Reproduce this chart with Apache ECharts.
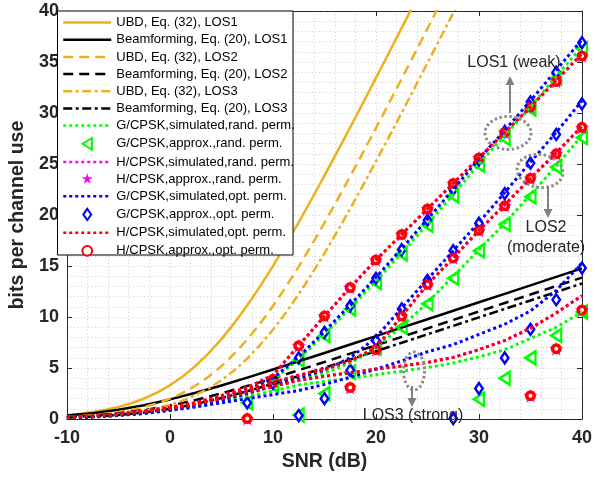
<!DOCTYPE html>
<html><head><meta charset="utf-8">
<script src="https://cdn.jsdelivr.net/npm/echarts/dist/echarts.min.js"></script>
<style>html,body{margin:0;padding:0;background:#fff}#c{width:595px;height:477px}</style>
</head><body><div id="c"></div>
<script>
// ---------- data ----------
const snr = [-10,-7.5,-5,-2.5,0,2.5,5,7.5,10,12.5,15,17.5,20,22.5,25,27.5,30,32.5,35,37.5,40];
const snrFine = [-10,-8.75,-7.5,-6.25,-5,-3.75,-2.5,-1.25,0,1.25,2.5,3.75,5,6.25,7.5,8.75,10,11.25,12.5,13.75,15,16.25,17.5,18.75,20,21.25,22.5,23.75,25,26.25,27.5,28.75,30];
const snrMarks = [7.5,10,12.5,15,17.5,20,22.5,25,27.5,30,32.5,35,37.5,40];
const xTicks = [-10,0,10,20,30,40];
const yTicks = [0,5,10,15,20,25,30,35,40];

// UBD curves (on snrFine)
const ubdLos1 = [0.39,0.52,0.69,0.91,1.19,1.55,2.02,2.59,3.31,4.18,5.23,6.44,7.84,9.41,11.14,13.01,15.0,17.1,19.29,21.55,23.86,26.21,28.6,31.01,33.44,35.88,38.34,40.81];
const ubdLos2 = [0.22,0.3,0.39,0.52,0.68,0.9,1.18,1.54,2.0,2.58,3.29,4.16,5.19,6.41,7.8,9.36,11.09,12.96,14.95,17.05,19.23,21.48,23.79,26.14,28.53,30.94,33.37,35.82,38.27,40.74];
const ubdLos3 = [0.15,0.2,0.27,0.35,0.47,0.62,0.81,1.07,1.4,1.82,2.35,3.01,3.81,4.78,5.93,7.26,8.76,10.42,12.24,14.19,16.25,18.4,20.63,22.92,25.26,27.63,30.03,32.46,34.9,37.35,39.81,42.28,44.8];
// beamforming curves (on snr)
const bfLos1 = [0.36,0.58,0.92,1.36,1.93,2.58,3.3,4.07,4.86,5.67,6.48,7.31,8.13,8.96,9.79,10.62,11.45,12.28,13.11,13.94,14.77];
const bfLos2 = [0.2,0.34,0.56,0.88,1.32,1.87,2.52,3.24,4.0,4.79,5.6,6.42,7.24,8.06,8.89,9.72,10.55,11.38,12.21,13.04,13.87];
const bfLos3 = [0.14,0.24,0.4,0.64,1.0,1.47,2.06,2.73,3.46,4.23,5.03,5.84,6.66,7.48,8.31,9.14,9.97,10.8,11.63,12.46,13.29];

// simulated curves (on snr)
const gRandSimLos1 = [0.15,0.27,0.45,0.7,1.05,1.5,2.1,2.7,3.8,5.9,8.3,10.9,13.5,16.3,19.1,22.0,25.0,27.8,30.6,33.6,36.5];
const gRandSimLos2 = [0.13,0.24,0.4,0.62,0.95,1.35,1.85,2.5,3.2,3.9,4.5,5.5,7.0,9.1,11.4,14.0,16.6,19.2,22.0,24.8,27.8];
const gRandSimLos3 = [0.12,0.22,0.37,0.58,0.9,1.25,1.7,2.2,2.75,3.35,3.7,4.0,4.35,4.7,5.05,5.5,6.1,6.8,7.9,9.0,10.5];
const hRandSimLos1 = [0.2,0.33,0.52,0.8,1.15,1.6,2.3,3.1,4.3,7.2,10.1,12.9,15.6,18.1,20.6,23.1,25.6,28.1,30.6,33.2,35.8];
const hRandSimLos2 = [0.18,0.3,0.48,0.75,1.1,1.6,2.2,2.9,3.6,4.3,4.9,5.7,7.0,10.1,13.2,15.8,18.5,21.0,23.6,26.1,28.7];
const hRandSimLos3 = [0.15,0.27,0.44,0.7,1.0,1.45,2.0,2.6,3.2,3.8,4.2,4.55,4.9,5.2,5.55,6.05,6.8,7.7,8.9,10.4,12.1];
const gOptSimLos1 = [0.15,0.27,0.45,0.7,1.05,1.5,2.1,2.8,4.0,6.1,8.6,11.2,13.9,16.7,19.6,22.5,25.5,28.3,31.2,34.2,37.2];
const gOptSimLos2 = [0.13,0.24,0.4,0.62,0.95,1.35,1.85,2.5,3.3,4.0,4.8,6.0,8.0,10.9,13.7,16.5,19.3,22.2,25.2,28.1,31.2];
const gOptSimLos3 = [0.1,0.2,0.35,0.55,0.85,1.2,1.6,2.0,2.4,2.8,3.4,4.1,4.9,5.7,6.6,7.3,8.3,9.3,10.6,12.6,15.3];
const hOptSimLos1 = [0.2,0.33,0.52,0.8,1.15,1.6,2.3,3.1,4.3,7.2,10.1,12.9,15.6,18.1,20.6,23.1,25.6,28.1,30.6,33.2,35.8];
const hOptSimLos2 = [0.18,0.3,0.48,0.75,1.1,1.6,2.2,2.9,3.6,4.3,4.9,5.7,7.0,10.1,13.2,15.8,18.5,21.0,23.6,26.1,28.7];
const hOptSimLos3 = [0.15,0.27,0.44,0.7,1.0,1.45,2.0,2.6,3.2,3.8,4.2,4.55,4.9,5.2,5.55,6.05,6.8,7.7,8.9,10.4,12.1];

// approximation markers (on snrMarks)
const gRandApxLos1 = [1.6,3.3,5.8,8.2,10.8,13.4,16.2,19.0,21.9,24.9,27.5,30.4,33.4,36.3];
const gRandApxLos2 = [null,null,0.4,2.5,4.6,7.0,9.0,11.3,13.8,16.5,19.1,21.8,24.7,27.6];
const gRandApxLos3 = [null,null,null,null,null,null,null,null,null,1.95,4.0,6.0,8.2,10.5];
const hRandApxLos1 = [0.05,3.9,7.2,10.1,12.9,15.6,18.1,20.6,23.1,25.6,28.1,30.6,33.1,35.6];
const hRandApxLos2 = [null,null,null,null,3.1,6.8,10.1,13.2,15.8,18.5,20.9,23.6,26.0,28.6];
const hRandApxLos3 = [null,null,null,null,null,null,null,null,null,null,null,2.3,6.9,10.7];
const gOptApxLos1 = [1.6,3.5,6.0,8.5,11.1,13.8,16.6,19.5,22.5,25.4,28.2,31.1,34.0,36.9];
const gOptApxLos2 = [null,null,0.35,2.0,4.8,7.7,10.8,13.6,16.5,19.2,22.1,25.1,27.9,30.9];
const gOptApxLos3 = [null,null,null,null,null,null,null,null,0.05,3.0,6.0,8.8,11.7,14.8];
const hOptApxLos1 = [0.05,3.9,7.2,10.1,12.9,15.6,18.1,20.6,23.1,25.6,28.1,30.6,33.1,35.6];
const hOptApxLos2 = [null,null,null,null,3.1,6.8,10.1,13.2,15.8,18.5,20.9,23.6,26.0,28.6];
const hOptApxLos3 = [null,null,null,null,null,null,null,null,null,null,null,2.3,6.9,10.7];

const names = ['UBD, Eq. (32), LOS1','Beamforming, Eq. (20), LOS1','UBD, Eq. (32), LOS2','Beamforming, Eq. (20), LOS2',
  'UBD, Eq. (32), LOS3','Beamforming, Eq. (20), LOS3','G/CPSK,simulated,rand. perm.','G/CPSK,approx.,rand. perm.',
  'H/CPSK,simulated,rand. perm.','H/CPSK,approx.,rand. perm.','G/CPSK,simulated,opt. perm.','G/CPSK,approx.,opt. perm.',
  'H/CPSK,simulated,opt. perm.','H/CPSK,approx.,opt. perm.'];
const lineNames = [0,1,2,3,4,5,6,8,10,12].map(i => names[i]);

// ---------- styling / building ----------
const ORANGE = '#EDB120', GREEN = '#00FF00', MAG = '#FF00FF', BLUE = '#0000FF', RED = '#FF0000';
const STAR_P = 'M50,0 L61.2,34.5 L97.6,34.5 L68.2,55.9 L79.4,90.5 L50,69.1 L20.6,90.5 L31.8,55.9 L2.4,34.5 L38.8,34.5 Z';
const TRI_P = 'M0,50 L80,0 L80,100 Z';
const DIA_P = 'M35,0 L70,50 L35,100 L0,50 Z';
const CIR_P = 'M0,50 A50,50 0 1,1 100,50 A50,50 0 1,1 0,50 Z';
// legend icons: same shapes with some empty margin so they appear smaller than the item box
const legendIcons = {
  'G/CPSK,approx.,rand. perm.': 'path://M-12,-10 M92,110 ' + TRI_P,
  'H/CPSK,approx.,rand. perm.': 'path://M-8,-10 M108,110 ' + STAR_P,
  'G/CPSK,approx.,opt. perm.': 'path://M-15,-12 M85,112 ' + DIA_P,
  'H/CPSK,approx.,opt. perm.': 'path://M-22,-22 M122,122 ' + CIR_P
};
function pairs(xs, ys) { const o = []; ys.forEach((y, i) => { if (y !== null && y !== undefined) o.push([xs[i], y]); }); return o; }
function curve(name, xs, ys, color, type, width) {
  return { type: 'line', name, data: pairs(xs, ys), symbol: 'none', smooth: false,
    lineStyle: { color, width, type, cap: 'butt', join: 'round' }, itemStyle: { color }, animation: false, silent: true };
}
function marks(name, ys, path, size, color, fill, bw) {
  return { type: 'scatter', name, data: pairs(snrMarks, ys), symbol: 'path://' + path, symbolSize: size,
    itemStyle: { color: fill, borderColor: color, borderWidth: bw, opacity: 1 }, animation: false, silent: true };
}
const DOT = [3, 3], DASH = [10, 6], DASHDOT = [9, 3.5, 3, 3.5];
const series = [
  curve(names[0], snrFine, ubdLos1, ORANGE, 'solid', 2.5),
  curve(names[1], snr, bfLos1, '#000', 'solid', 2.5),
  curve(names[2], snrFine, ubdLos2, ORANGE, DASH, 2.5),
  curve(names[3], snr, bfLos2, '#000', DASH, 2.5),
  curve(names[4], snrFine, ubdLos3, ORANGE, DASHDOT, 2.5),
  curve(names[5], snr, bfLos3, '#000', DASHDOT, 2.5),
  curve(names[6], snr, gRandSimLos1, GREEN, DOT, 3), curve(names[6], snr, gRandSimLos2, GREEN, DOT, 3), curve(names[6], snr, gRandSimLos3, GREEN, DOT, 3),
  marks(names[7], gRandApxLos1, TRI_P, [10, 13], GREEN, '#fff', 2.5),
  marks(names[7], gRandApxLos2, TRI_P, [10, 13], GREEN, '#fff', 2.5),
  marks(names[7], gRandApxLos3, TRI_P, [10, 13], GREEN, '#fff', 2.5),
  curve(names[8], snr, hRandSimLos1, MAG, DOT, 3), curve(names[8], snr, hRandSimLos2, MAG, DOT, 3), curve(names[8], snr, hRandSimLos3, MAG, DOT, 3),
  marks(names[9], hRandApxLos1, STAR_P, 14, MAG, MAG, 0),
  marks(names[9], hRandApxLos2, STAR_P, 14, MAG, MAG, 0),
  marks(names[9], hRandApxLos3, STAR_P, 14, MAG, MAG, 0),
  curve(names[10], snr, gOptSimLos1, BLUE, DOT, 3), curve(names[10], snr, gOptSimLos2, BLUE, DOT, 3), curve(names[10], snr, gOptSimLos3, BLUE, DOT, 3),
  marks(names[11], gOptApxLos1, DIA_P, [7.5, 11], BLUE, '#fff', 2.5),
  marks(names[11], gOptApxLos2, DIA_P, [7.5, 11], BLUE, '#fff', 2.5),
  marks(names[11], gOptApxLos3, DIA_P, [7.5, 11], BLUE, '#fff', 2.5),
  curve(names[12], snr, hOptSimLos1, RED, DOT, 3), curve(names[12], snr, hOptSimLos2, RED, DOT, 3), curve(names[12], snr, hOptSimLos3, RED, DOT, 3),
  marks(names[13], hOptApxLos1, CIR_P, 7.5, RED, '#fff', 3.5),
  marks(names[13], hOptApxLos2, CIR_P, 7.5, RED, '#fff', 3.5),
  marks(names[13], hOptApxLos3, CIR_P, 7.5, RED, '#fff', 3.5)
];

const FONT = 'Liberation Sans, Arial, Helvetica, sans-serif';
const AX = '#262626';
const gridLine = { show: true, lineStyle: { color: '#cfcfcf', width: 1, type: [1, 2.5] } };
const frameLine = { show: true, onZero: false, lineStyle: { color: AX, width: 1 } };
const frameTick = { show: true, inside: true, length: 5, lineStyle: { color: AX } };

// annotation decoration helpers (pixel layout only)
function ellipsePts(cx, cy, rx, ry, rotDeg) {
  const p = [], r = rotDeg * Math.PI / 180;
  for (let k = 0; k <= 60; k++) {
    const t = k / 60 * 2 * Math.PI, x = rx * Math.cos(t), y = ry * Math.sin(t);
    p.push([cx + x * Math.cos(r) - y * Math.sin(r), cy + x * Math.sin(r) + y * Math.cos(r)]);
  }
  return p;
}
function arrow(x, y1, y2) {
  const dir = y2 > y1 ? 1 : -1, hl = 9;
  return [
    { type: 'line', shape: { x1: x, y1: y1, x2: x, y2: y2 - dir * hl }, style: { stroke: '#808080', lineWidth: 2 }, z: 50 },
    { type: 'polygon', shape: { points: [[x, y2], [x - 4.5, y2 - dir * hl], [x + 4.5, y2 - dir * hl]] }, style: { fill: '#808080' }, z: 50 }
  ];
}
const ellStyle = { stroke: '#8c8c8c', lineWidth: 3, lineDash: [2.5, 2.5], fill: null };
function label(text, x, y) {
  return { type: 'text', x: x, y: y, z: 50, style: { text, fill: '#262626', font: '16px ' + FONT, align: 'center', verticalAlign: 'middle', textAlign: 'center', textVerticalAlign: 'middle' } };
}
const graphics = [
  { type: 'rect', shape: { x: 57.5, y: 11, width: 235.5, height: 244 }, style: { fill: '#fff', stroke: '#000', lineWidth: 1 }, z: 100 },
  { type: 'polyline', shape: { points: ellipsePts(508, 133, 23, 16.5, 0) }, style: ellStyle, z: 50 },
  { type: 'polyline', shape: { points: ellipsePts(540, 171, 23, 16.5, 8) }, style: ellStyle, z: 50 },
  { type: 'polyline', shape: { points: ellipsePts(414, 371, 10.5, 19, 0) }, style: ellStyle, z: 50 },
  ...arrow(510, 113, 76), ...arrow(548, 186, 218), ...arrow(412, 386, 407),
  label('LOS1 (weak)', 514, 63), label('LOS2', 546, 228), label('(moderate)', 546, 248), label('LOS3 (strong)', 413, 416)
];

const legendData = names.map(n => {
  if (lineNames.indexOf(n) >= 0) return { name: n, itemStyle: { color: 'rgba(0,0,0,0)', borderColor: 'rgba(0,0,0,0)', borderWidth: 0 } };
  return { name: n, icon: legendIcons[n] };
});

const chart = echarts.init(document.getElementById('c'), null, { renderer: 'canvas' });
chart.setOption({
  animation: false,
  backgroundColor: '#fff',
  grid: { left: 57.5, right: 9, top: 11, bottom: 50, containLabel: false },
  xAxis: [
    { type: 'value', min: xTicks[0], max: xTicks[xTicks.length - 1], interval: 10,
      axisLine: frameLine, axisTick: frameTick,
      minorTick: { show: true, splitNumber: 5, length: 0 }, splitLine: gridLine, minorSplitLine: gridLine,
      axisLabel: { color: AX, fontSize: 18, fontWeight: 'bold', fontFamily: FONT, margin: 10 },
      name: 'SNR (dB)', nameLocation: 'middle', nameGap: 26,
      nameTextStyle: { color: AX, fontSize: 19.5, fontWeight: 'bold', fontFamily: FONT } },
    { type: 'value', position: 'top', min: xTicks[0], max: xTicks[xTicks.length - 1], interval: 10,
      axisLine: frameLine, axisTick: frameTick, axisLabel: { show: false }, splitLine: { show: false } }
  ],
  yAxis: [
    { type: 'value', min: yTicks[0], max: yTicks[yTicks.length - 1], interval: 5,
      axisLine: frameLine, axisTick: frameTick,
      minorTick: { show: true, splitNumber: 5, length: 0 }, splitLine: gridLine, minorSplitLine: gridLine,
      axisLabel: { color: AX, fontSize: 18, fontWeight: 'bold', fontFamily: FONT, margin: 8 },
      name: 'bits per channel use', nameLocation: 'middle', nameGap: 33, nameRotate: 90,
      nameTextStyle: { color: AX, fontSize: 19.5, fontWeight: 'bold', fontFamily: FONT } },
    { type: 'value', position: 'right', min: yTicks[0], max: yTicks[yTicks.length - 1], interval: 5,
      axisLine: frameLine, axisTick: frameTick, axisLabel: { show: false }, splitLine: { show: false } }
  ],
  legend: {
    data: legendData, orient: 'vertical', left: 62, top: 15.6, padding: 0, itemWidth: 48, itemHeight: 14, itemGap: 3.17,
    selectedMode: false, z: 101, symbolKeepAspect: true,
    lineStyle: { width: 2.5 },
    textStyle: { fontSize: 13, fontFamily: FONT, color: '#000', lineHeight: 14 }
  },
  graphic: { elements: graphics },
  series: series
});
</script>
</body></html>
